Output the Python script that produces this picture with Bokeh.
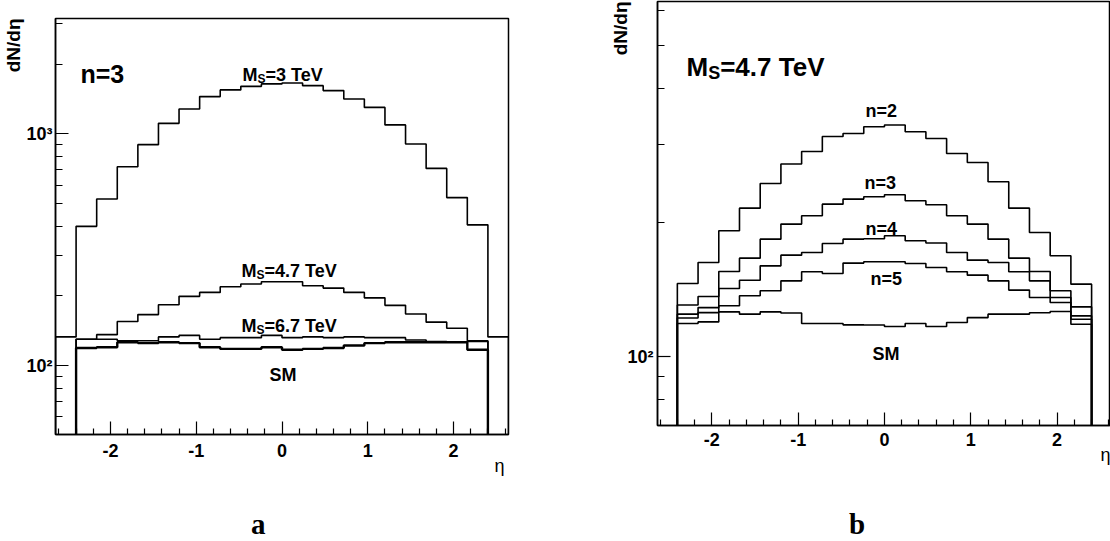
from bokeh.plotting import figure
from bokeh.layouts import row, column
from bokeh.models import FixedTicker, Range1d, Label, Title, Div, Spacer
from bokeh.embed import file_html
from bokeh.resources import INLINE

# ---------------- data ----------------
eta_edges = [-2.4, -2.16, -1.92, -1.68, -1.44, -1.2, -0.96, -0.72, -0.48, -0.24, 0.0,
             0.24, 0.48, 0.72, 0.96, 1.2, 1.44, 1.68, 1.92, 2.16, 2.4]
eta_outer = [-2.64, 2.64]

# panel a (n=3)
a_ms3 = [399, 524, 722, 899, 1111, 1282, 1449, 1549, 1605, 1644,
         1660, 1616, 1538, 1416, 1302, 1094, 905, 710, 531, 405]
a_ms3_outer = 133
a_ms47 = [130, 136, 155, 166, 183, 199, 207, 219, 225, 230,
          230, 221, 216, 207, 196, 182, 167, 154, 145, 128]
a_ms67 = [130, 130, 128, 128, 133, 135, 130, 132, 132, 135,
          132, 133, 132, 133, 132, 132, 129, 127, 126, 127]
a_sm = [119, 120, 126, 125, 126, 125, 120, 118, 118, 120,
        117, 118, 119, 122, 125, 126, 126, 126, 126, 117]

# panel b (M_S = 4.7 TeV)
b_n2 = [145.9, 162.6, 191.6, 215.4, 244.7, 270.6, 288.7, 312.0, 316.9, 328.1,
        331.1, 319.7, 308.8, 285.8, 272.8, 246.9, 215.4, 189.9, 168.4, 145.4]
b_n3 = [130.5, 136.4, 155.2, 166.3, 183.5, 198.3, 207.0, 219.9, 225.7, 228.4,
        230.8, 223.8, 219.2, 207.0, 198.3, 183.5, 166.3, 155.2, 140.5, 129.3]
b_n4 = [124.5, 128.8, 142.1, 148.4, 159.8, 168.9, 171.2, 179.4, 183.5, 183.8,
        186.7, 181.9, 179.8, 171.2, 164.6, 162.6, 155.0, 147.9, 135.7, 123.4]
b_n5 = [122.0, 125.5, 130.0, 136.9, 140.5, 147.9, 155.0, 153.6, 162.1, 163.2,
        163.2, 161.8, 158.5, 155.0, 152.3, 147.9, 141.0, 135.7, 132.2, 121.3]
b_sm = [118.6, 119.6, 126.0, 124.5, 126.0, 125.2, 118.6, 118.6, 117.8, 117.7,
        116.8, 118.6, 116.8, 119.2, 122.3, 124.5, 124.5, 125.4, 126.2, 118.2]

x_major = [-2, -1, 0, 1, 2]
x_major_labels = ["-2", "-1", "0", "1", "2"]
x_minor = [-2.6, -2.4, -2.2, -1.8, -1.6, -1.4, -1.2, -0.8, -0.6, -0.4, -0.2,
           0.2, 0.4, 0.6, 0.8, 1.2, 1.4, 1.6, 1.8, 2.2, 2.4, 2.6]
a_y_major = [100, 1000]
a_y_major_labels = ["10\u00b2", "10\u00b3"]
a_y_minor = [60, 70, 80, 90, 200, 300, 400, 500, 600, 700, 800, 900, 2000, 3000]
b_y_major = [100]
b_y_major_labels = ["10\u00b2"]
b_y_minor = [70, 80, 90, 200, 300, 400, 500, 600]

FONT = "Liberation Sans"


def outline(edges, vals, floor):
    xs = [edges[0]]
    ys = [floor]
    for i, v in enumerate(vals):
        xs += [edges[i], edges[i + 1]]
        ys += [v, v]
    xs.append(edges[-1])
    ys.append(floor)
    return xs, ys


def style(p, ymaj, ymaj_labels, ymin, xstand, ystand):
    p.grid.visible = False
    p.outline_line_color = "black"
    p.outline_line_width = 1.5
    p.background_fill_color = "white"
    p.border_fill_color = "white"
    p.xaxis.ticker = FixedTicker(ticks=x_major, minor_ticks=x_minor)
    p.yaxis.ticker = FixedTicker(ticks=ymaj, minor_ticks=ymin)
    p.xaxis.major_label_overrides = dict(zip(x_major, x_major_labels))
    p.yaxis.major_label_overrides = dict(zip(ymaj, ymaj_labels))
    for ax in (p.xaxis[0], p.yaxis[0]):
        ax.axis_line_width = 1.5
        ax.axis_line_color = "black"
        ax.major_tick_in = 13
        ax.major_tick_out = 0
        ax.minor_tick_in = 7
        ax.minor_tick_out = 0
        ax.major_tick_line_width = 1.2
        ax.minor_tick_line_width = 1.2
        ax.major_label_text_font = FONT
        ax.major_label_text_font_style = "bold"
        ax.major_label_text_font_size = "18px"
        ax.major_label_text_color = "black"
    p.xaxis.minor_tick_in = 6
    p.xaxis.major_label_standoff = xstand
    p.yaxis.major_label_standoff = ystand


def lab(p, fl, fb, px, py, text, size, align="left", baseline="alphabetic"):
    p.add_layout(Label(x=px - fl, y=fb - py, x_units="screen", y_units="screen",
                       text=text, text_font=FONT, text_font_size=f"{size}px",
                       text_font_style="bold", text_align=align,
                       text_baseline=baseline, text_color="black"))


def ms_label(p, fl, fb, px, py, rest, size):
    # "M" + subscript "S" + rest
    lab(p, fl, fb, px, py, "M", size)
    mw = 0.833 * size
    ss = round(size * 0.68)
    lab(p, fl, fb, px + mw, py + 0.26 * size, "S", ss)
    lab(p, fl, fb, px + mw + 0.667 * ss, py, rest, size)


def side_title(p, text, place, size, bold, align, valign, offset, standoff):
    t = Title(text=text, align=align, vertical_align=valign, text_font=FONT,
              text_font_size=f"{size}px",
              text_font_style="bold" if bold else "normal", text_color="black")
    t.offset = offset
    try:
        t.standoff = standoff
    except Exception:
        pass
    p.add_layout(t, place)


# both figures get identical top/bottom borders; vertical offsets come from spacers
B_TOP, B_BOT = 1, 55
A_SHIFT = 17                      # panel a frame starts 17px lower than panel b
HA = 434 - A_SHIFT + B_BOT        # panel a frame bottom at y=434
HB = 425 + B_BOT                  # panel b frame bottom at y=425

# ---------------- panel a ----------------
pa = figure(width=560, height=HA, x_range=Range1d(-2.64, 2.64),
            y_range=Range1d(50.4, 3150), y_axis_type="log",
            output_backend="svg", toolbar_location=None,
            min_border_left=53, min_border_right=52, min_border_top=B_TOP,
            min_border_bottom=B_BOT)
style(pa, a_y_major, a_y_major_labels, a_y_minor, 9, 3)
ya0 = 50.4
full_edges = [eta_outer[0]] + eta_edges + [eta_outer[1]]
xs, ys = outline(full_edges, [a_ms3_outer] + a_ms3 + [a_ms3_outer], ya0)
pa.line(xs, ys, line_color="black", line_width=1.6)
for vals, lw in ((a_ms47, 1.6), (a_ms67, 1.6), (a_sm, 2.4)):
    xs, ys = outline(eta_edges, vals, ya0)
    pa.line(xs, ys, line_color="black", line_width=lw)

FLa, FBa = 53, 434
lab(pa, FLa, FBa, 78, 73, "n=3", 25)
ms_label(pa, FLa, FBa, 240, 74, "=3 TeV", 18)
ms_label(pa, FLa, FBa, 239, 270, "=4.7 TeV", 18)
ms_label(pa, FLa, FBa, 239, 325, "=6.7 TeV", 18)
lab(pa, FLa, FBa, 267, 374, "SM", 18)
side_title(pa, "dN/d\u03b7", "left", 19, True, "right", "bottom", 0, 0)
side_title(pa, "\u03b7", "below", 18, False, "right", "top", 4, -8)

# ---------------- panel b ----------------
pb = figure(width=550, height=HB, x_range=Range1d(-2.63, 2.619),
            y_range=Range1d(70, 627), y_axis_type="log",
            output_backend="svg", toolbar_location=None,
            min_border_left=97, min_border_right=0, min_border_top=B_TOP,
            min_border_bottom=B_BOT)
style(pb, b_y_major, b_y_major_labels, b_y_minor, 7, 4)
yb0 = 70
for vals in (b_n2, b_n3, b_n4, b_n5, b_sm):
    xs, ys = outline(eta_edges, vals, yb0)
    pb.line(xs, ys, line_color="black", line_width=1.6)

FLb, FBb = 657, 425
ms_label(pb, FLb, FBb, 686, 66, "=4.7 TeV", 26)
lab(pb, FLb, FBb, 865, 110, "n=2", 18)
lab(pb, FLb, FBb, 864, 182, "n=3", 18)
lab(pb, FLb, FBb, 865, 228, "n=4", 18)
lab(pb, FLb, FBb, 870, 278, "n=5", 18)
lab(pb, FLb, FBb, 872, 353, "SM", 18)
side_title(pb, "dN/d\u03b7", "left", 19, True, "right", "bottom", 0, -12)
side_title(pb, "\u03b7", "below", 18, False, "right", "top", 0, -8)

# ---------------- sub-figure letters ----------------
cap_style = ("font-family:'Liberation Serif';font-weight:bold;font-size:29px;"
             "line-height:22px;white-space:nowrap;margin:0;")
DA_H = 541 - A_SHIFT - HA
DB_H = 541 - HB
div_a = Div(text=f'<div style="{cap_style}padding-left:251px;padding-top:{534 - (A_SHIFT + HA) - 21}px;">a</div>',
            width=560, height=DA_H, margin=0)
div_b = Div(text=f'<div style="{cap_style}padding-left:289px;padding-top:{534 - HB - 21}px;">b</div>',
            width=550, height=DB_H, margin=0)

col_a = column(Spacer(width=560, height=A_SHIFT, margin=0), pa, div_a)
col_b = column(pb, div_b)
layout = row(col_a, col_b)
open("out.html", "w").write(file_html(layout, INLINE))
